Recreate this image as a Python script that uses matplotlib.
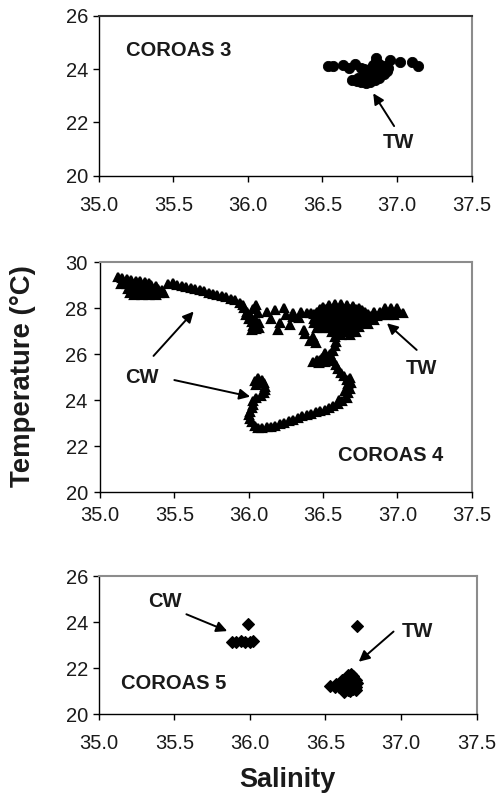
import matplotlib
matplotlib.use("Agg")
import matplotlib.pyplot as plt

plt.rcParams.update({
    "font.family": ["Liberation Sans", "DejaVu Sans"],
    "font.size": 14.5,
    "xtick.direction": "out",
    "ytick.direction": "out",
    "xtick.major.size": 4.3,
    "ytick.major.size": 4.3,
    "xtick.major.pad": 10,
    "ytick.major.pad": 3,
})

# ------------------------------------------------------------
# T-S values (salinity, temperature)
# ------------------------------------------------------------
xticks = [35.0, 35.5, 36.0, 36.5, 37.0, 37.5]
xtick_labels = ["35.0", "35.5", "36.0", "36.5", "37.0", "37.5"]
yticks_small = [20, 22, 24, 26]
yticks_large = [20, 22, 24, 26, 28, 30]

# COROAS 3 (circles)
coroas3 = [
    (36.54, 24.12), (36.57, 24.12), (36.64, 24.15), (36.68, 24.03), (36.72, 24.19),
    (36.76, 24.03), (36.86, 24.40), (36.95, 24.34), (37.02, 24.28), (37.10, 24.28),
    (37.14, 24.11),
    (36.70, 23.60), (36.73, 23.55), (36.76, 23.50), (36.79, 23.48), (36.82, 23.50),
    (36.85, 23.58), (36.88, 23.68), (36.91, 23.80), (36.93, 23.92), (36.94, 24.05),
    (36.91, 24.12), (36.88, 24.20), (36.86, 24.28), (36.84, 24.15), (36.82, 24.00),
    (36.80, 23.85), (36.77, 23.72), (36.74, 23.68), (36.84, 23.78), (36.87, 23.92),
    (36.89, 24.02), (36.80, 23.62), (36.86, 23.65), (36.78, 24.00), (36.83, 23.88),
]

# COROAS 4 (triangles)
coroas4 = [
    # warm fresh patch at the left
    (35.12, 29.35), (35.15, 29.30), (35.18, 29.28), (35.21, 29.25), (35.24, 29.20),
    (35.27, 29.20), (35.30, 29.15), (35.33, 29.10),
    (35.14, 29.05), (35.18, 29.05), (35.22, 29.05), (35.26, 29.05), (35.30, 29.05),
    (35.34, 29.00), (35.38, 28.95),
    (35.19, 28.85), (35.23, 28.85), (35.27, 28.85), (35.31, 28.85), (35.35, 28.85),
    (35.39, 28.82), (35.42, 28.78),
    (35.20, 28.68), (35.24, 28.66), (35.28, 28.66), (35.32, 28.66), (35.36, 28.66),
    (35.40, 28.66), (35.43, 28.65),
    (35.23, 28.56), (35.28, 28.56), (35.33, 28.56), (35.38, 28.58),
    (35.21, 28.95), (35.29, 28.95), (35.37, 28.75), (35.25, 28.76), (35.33, 28.76),
    # track eastwards
    (35.46, 29.05), (35.49, 29.08), (35.52, 29.00), (35.55, 28.95), (35.58, 28.92),
    (35.61, 28.88), (35.64, 28.83), (35.67, 28.78), (35.70, 28.74), (35.73, 28.68),
    (35.76, 28.62), (35.79, 28.58), (35.82, 28.52), (35.85, 28.48), (35.88, 28.42),
    (35.91, 28.34), (35.94, 28.25), (35.96, 28.15),
    # cluster near 36.0
    (35.97, 28.00), (35.99, 27.85), (36.01, 27.70), (36.00, 27.55), (36.02, 27.40),
    (36.03, 27.25), (36.05, 27.10), (36.04, 27.55), (36.06, 27.80), (35.98, 27.70),
    (36.03, 27.95), (36.07, 27.35), (36.05, 28.14), (36.02, 27.05), (36.07, 27.15),
    # scattered triangles
    (36.12, 27.86), (36.18, 27.93), (36.15, 27.52), (36.21, 27.35), (36.20, 27.06),
    (36.24, 28.00), (36.25, 27.70), (36.30, 27.64), (36.28, 27.28), (36.35, 27.86),
    (36.30, 27.78), (36.39, 27.78), (36.42, 27.80), (36.47, 27.86), (36.34, 27.60),
    (36.37, 27.06), (36.38, 26.90), (36.41, 26.60), (36.45, 26.50), (36.43, 26.75),
    # main TW patch
    (36.54, 28.15), (36.58, 28.18), (36.62, 28.18), (36.66, 28.15), (36.70, 28.10),
    (36.48, 27.95), (36.52, 27.95), (36.56, 27.95), (36.60, 27.95), (36.64, 27.95),
    (36.68, 27.95), (36.72, 27.95), (36.76, 27.92),
    (36.44, 27.75), (36.48, 27.75), (36.52, 27.75), (36.56, 27.75), (36.60, 27.75),
    (36.64, 27.75), (36.68, 27.75), (36.72, 27.75), (36.76, 27.75), (36.80, 27.75),
    (36.44, 27.55), (36.48, 27.55), (36.52, 27.55), (36.56, 27.55), (36.60, 27.55),
    (36.64, 27.55), (36.68, 27.55), (36.72, 27.55), (36.76, 27.55), (36.80, 27.55),
    (36.84, 27.50),
    (36.44, 27.35), (36.48, 27.35), (36.52, 27.35), (36.56, 27.35), (36.60, 27.35),
    (36.64, 27.35), (36.68, 27.35), (36.72, 27.35), (36.76, 27.35), (36.80, 27.32),
    (36.46, 27.15), (36.50, 27.15), (36.54, 27.15), (36.58, 27.15), (36.62, 27.15),
    (36.66, 27.15), (36.70, 27.15), (36.74, 27.18),
    (36.56, 26.95), (36.60, 26.95), (36.64, 26.95), (36.68, 26.95), (36.72, 26.98),
    (36.50, 28.05), (36.58, 28.05), (36.66, 28.05), (36.74, 28.02),
    (36.46, 27.85), (36.54, 27.85), (36.62, 27.85), (36.70, 27.85), (36.78, 27.85),
    (36.46, 27.45), (36.54, 27.45), (36.62, 27.45), (36.70, 27.45), (36.78, 27.45),
    (36.48, 27.25), (36.56, 27.25), (36.64, 27.25), (36.72, 27.25),
    (36.58, 27.05), (36.66, 27.05), (36.62, 26.85), (36.68, 26.85),
    # eastern extension
    (36.92, 28.00), (36.96, 28.00), (37.00, 28.00),
    (36.84, 27.85), (36.88, 27.85), (36.92, 27.85), (36.96, 27.85), (37.00, 27.85),
    (37.04, 27.80),
    (36.82, 27.68), (36.86, 27.68), (36.90, 27.70), (36.94, 27.70), (36.98, 27.72),
    # descending branch
    (36.58, 26.75), (36.59, 26.55), (36.58, 26.35), (36.57, 26.15), (36.55, 26.00),
    (36.52, 25.92), (36.49, 25.85), (36.46, 25.75), (36.43, 25.68), (36.47, 25.62),
    (36.51, 25.65), (36.54, 25.70), (36.51, 26.05), (36.57, 25.75), (36.59, 25.55),
    (36.60, 25.35), (36.62, 25.20), (36.64, 25.05), (36.66, 24.90), (36.67, 24.70),
    (36.68, 24.50), (36.67, 24.30), (36.66, 24.10), (36.63, 23.95), (36.60, 23.85),
    (36.57, 23.75), (36.54, 23.68), (36.51, 23.60), (36.48, 23.55), (36.45, 23.48),
    (36.42, 23.42), (36.39, 23.36), (36.36, 23.30), (36.33, 23.22), (36.30, 23.15),
    (36.27, 23.08), (36.24, 23.00), (36.21, 22.95), (36.18, 22.90), (36.15, 22.85),
    (36.12, 22.82), (36.09, 22.80), (36.06, 22.80), (36.04, 22.88), (36.02, 23.05),
    (36.01, 23.20), (36.00, 23.35), (36.01, 23.50), (36.02, 23.65), (36.03, 23.80),
    (36.03, 23.95), (36.05, 24.10), (36.08, 24.20), (36.10, 24.30), (36.11, 24.45),
    (36.11, 24.60), (36.10, 24.75), (36.09, 24.88), (36.06, 24.95), (36.04, 24.82),
    (36.05, 24.65),
    (36.69, 24.75), (36.68, 24.95), (36.65, 24.40), (36.61, 24.00), (36.48, 25.75),
]

# COROAS 5 (diamonds)
coroas5 = [
    (35.99, 23.90), (36.71, 23.83),
    (35.88, 23.15), (35.91, 23.15), (35.94, 23.18), (35.97, 23.15), (36.00, 23.15),
    (36.02, 23.18),
    (36.53, 21.22), (36.56, 21.20), (36.59, 21.18), (36.62, 21.12), (36.65, 21.05),
    (36.68, 21.10), (36.70, 21.20), (36.71, 21.35), (36.70, 21.50), (36.68, 21.65),
    (36.67, 21.75), (36.64, 21.55), (36.62, 21.35), (36.66, 21.35), (36.60, 21.30),
    (36.57, 21.30), (36.63, 21.20), (36.66, 21.00), (36.69, 21.40), (36.64, 21.45),
    (36.65, 21.70), (36.61, 21.50), (36.70, 21.05), (36.62, 20.98),
]


W, H = 497, 795
ARROW = dict(arrowstyle="-|>", mutation_scale=16, lw=1.4, color="black",
             shrinkA=0, shrinkB=0)
LABEL = dict(fontsize=14.5, fontweight="bold", color="#1a1a1a")


def add_panel(fig, left, top, right, bottom, yticks, xpad, ypad):
    """Axes placed by pixel edges (left, top, right, bottom)."""
    ax = fig.add_axes([left / W, 1 - bottom / H, (right - left) / W, (bottom - top) / H])
    ax.set_xlim(35.0, 37.5)
    ax.set_ylim(yticks[0], yticks[-1])
    ax.set_xticks(xticks)
    ax.set_xticklabels(xtick_labels)
    ax.set_yticks(yticks)
    for side in ("top", "right"):
        ax.spines[side].set_color("#8c8c8c")
        ax.spines[side].set_linewidth(1.5)
    for side in ("left", "bottom"):
        ax.spines[side].set_linewidth(1.0)
    ax.tick_params(colors="black", labelcolor="#1a1a1a", width=1.0)
    ax.tick_params(axis="x", pad=xpad)
    ax.tick_params(axis="y", pad=ypad)
    return ax


def scatter(ax, pts, marker, size, edge):
    s = [p[0] for p in pts]
    t = [p[1] for p in pts]
    ax.plot(s, t, linestyle="none", marker=marker, markersize=size,
            color="black", markeredgecolor="black", markeredgewidth=edge)


fig = plt.figure(figsize=(W / 100, H / 100), dpi=100)

# COROAS 3
ax3 = add_panel(fig, 98.7, 15.7, 471.7, 175.7, yticks_small, 10, 3)
ax3.spines["top"].set_color("#333333")
scatter(ax3, coroas3, "o", 7.4, 0.6)
ax3.text(35.18, 24.71, "COROAS 3", ha="left", va="center", **LABEL)
ax3.annotate("", xy=(36.84, 23.09), xytext=(36.98, 21.86), arrowprops=ARROW)
ax3.text(37.01, 21.24, "TW", ha="center", va="center", **LABEL)

# COROAS 4
ax4 = add_panel(fig, 100.0, 262.3, 471.7, 492.3, yticks_large, 5.5, 4.5)
scatter(ax4, coroas4, "^", 6.3, 1.6)
ax4.text(36.60, 21.62, "COROAS 4", ha="left", va="center", **LABEL)
ax4.annotate("", xy=(35.63, 27.86), xytext=(35.36, 25.93), arrowprops=ARROW)
ax4.annotate("", xy=(36.01, 24.16), xytext=(35.50, 24.88), arrowprops=ARROW)
ax4.text(35.28, 25.0, "CW", ha="center", va="center", **LABEL)
ax4.annotate("", xy=(36.93, 27.35), xytext=(37.13, 26.19), arrowprops=ARROW)
ax4.text(37.16, 25.39, "TW", ha="center", va="center", **LABEL)

# COROAS 5
ax5 = add_panel(fig, 98.7, 576.0, 476.7, 714.3, yticks_small, 10, 3)
scatter(ax5, coroas5, "D", 6.2, 0.8)
ax5.text(35.15, 21.34, "COROAS 5", ha="left", va="center", **LABEL)
ax5.annotate("", xy=(35.85, 23.61), xytext=(35.58, 24.34), arrowprops=ARROW)
ax5.text(35.44, 24.89, "CW", ha="center", va="center", **LABEL)
ax5.annotate("", xy=(36.72, 22.28), xytext=(36.95, 23.59), arrowprops=ARROW)
ax5.text(37.11, 23.59, "TW", ha="center", va="center", **LABEL)

fig.text(23 / W, 1 - 376 / H, "Temperature (\u00b0C)", rotation=90,
         ha="center", va="center", fontsize=19.8, fontweight="bold", color="#1a1a1a")
fig.text(287 / W, 1 - 780 / H, "Salinity", ha="center", va="center",
         fontsize=19.5, fontweight="bold", color="#1a1a1a")

fig.savefig("out.png", dpi=100)
